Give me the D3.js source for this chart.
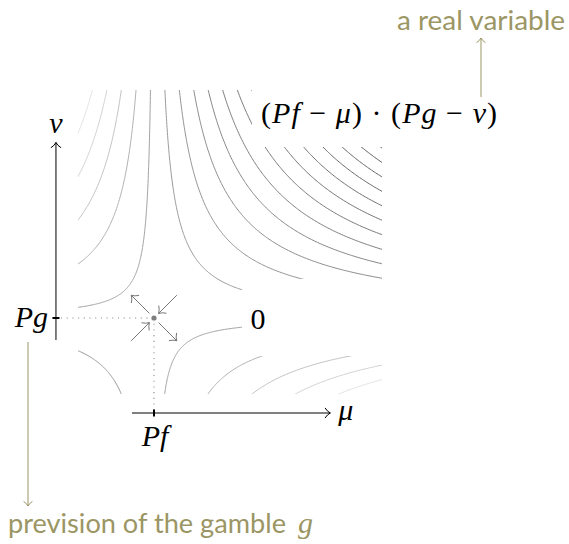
<!DOCTYPE html>
<html>
<head>
<meta charset="utf-8">
<script src="https://cdn.jsdelivr.net/npm/d3@7"></script>
<style>
  html, body { margin: 0; padding: 0; background: #fff; }
  svg { display: block; }
</style>
</head>
<body>
<svg id="chart" width="569" height="544"></svg>
<script>
// Level values of the product (Pf − μ)·(Pg − ν) drawn as contour lines
const levels = [-2.43, -1.86, -1.29, -0.71, -0.14, 0.43, 1.00, 1.57, 2.14, 2.71,
                3.29, 3.86, 4.43, 5.00, 5.57, 6.14, 6.71, 7.29, 7.86, 8.43];
// Previsions of the gambles f and g (the saddle point)
const prevision = { f: 0, g: 0 };
// Extent of the (μ, ν) plane shown
const muDomain = [-1, 3];
const nuDomain = [-1, 3];
// Axis extents and offsets (plane units)
const muAxisRange = [-0.29, 2.32];
const nuAxisRange = [-0.29, 2.31];
const muAxisAt = -1.25;
const nuAxisAt = -1.29;
// Directions of the small arrows around the saddle point: [dμ, dν, outward?]
const saddleArrows = [[-1, 1, true], [1, -1, true], [1, 1, false], [-1, -1, false]];

const olive = "#9b9664";
const mathFont = "Liberation Serif, Times New Roman, serif";
const sansFont = "Lato, Open Sans, sans-serif";
const mathSize = 30;

const svg = d3.select("#chart");
const x = d3.scaleLinear().domain(muDomain).range([78, 382]);
const y = d3.scaleLinear().domain(nuDomain).range([394, 90]);
const Pf = prevision.f, Pg = prevision.g;

svg.append("defs").append("clipPath").attr("id", "plane")
  .append("rect")
  .attr("x", x(muDomain[0])).attr("y", y(nuDomain[1]))
  .attr("width", x(muDomain[1]) - x(muDomain[0]))
  .attr("height", y(nuDomain[0]) - y(nuDomain[1]));

// grey shade of a contour line according to its level
const shade = d3.scaleLinear()
  .domain([-3, -0.14, 3, 9])
  .range(["#f2f2f2", "#9c9c9c", "#747474", "#3c3c3c"]);

const line = d3.line().x(d => x(d[0])).y(d => y(d[1]));

// contour lines: both branches of the hyperbola (Pf − μ)(Pg − ν) = c
const contours = svg.append("g").attr("clip-path", "url(#plane)");
levels.forEach(c => {
  [-1, 1].forEach(side => {
    const uMin = Math.abs(c) / 6, uMax = 6, n = 300;
    const pts = d3.range(n + 1).map(i => {
      const u = uMin * Math.pow(uMax / uMin, i / n);
      return [Pf + side * u, Pg + c / (side * u)];
    });
    contours.append("path")
      .attr("d", line(pts))
      .attr("fill", "none")
      .attr("stroke", shade(c))
      .attr("stroke-width", 0.95);
  });
});

// arrow head in the TikZ "to" style
function head(g, px, py, ang, color, len = 6) {
  const a1 = ang + Math.PI - 0.75, a2 = ang + Math.PI + 0.75;
  g.append("path")
    .attr("d", `M${px + len * Math.cos(a1)},${py + len * Math.sin(a1)}
                Q${px + 0.5 * len * Math.cos(a1 + 0.3)},${py + 0.5 * len * Math.sin(a1 + 0.3)} ${px},${py}
                Q${px + 0.5 * len * Math.cos(a2 - 0.3)},${py + 0.5 * len * Math.sin(a2 - 0.3)} ${px + len * Math.cos(a2)},${py + len * Math.sin(a2)}`)
    .attr("fill", "none").attr("stroke", color).attr("stroke-width", 1)
    .attr("stroke-linecap", "round");
}
function arrow(g, x1, y1, x2, y2, color, width = 1, len = 6) {
  g.append("line").attr("x1", x1).attr("y1", y1).attr("x2", x2).attr("y2", y2)
    .attr("stroke", color).attr("stroke-width", width);
  head(g, x2, y2, Math.atan2(y2 - y1, x2 - x1), color, len);
}
function mathText(g, px, py, parts, anchor = "start") {
  const t = g.append("text").attr("x", px).attr("y", py).attr("text-anchor", anchor)
    .attr("font-family", mathFont).attr("font-size", mathSize).attr("fill", "#000");
  parts.forEach(([s, it]) => t.append("tspan").attr("font-style", it ? "italic" : "normal").text(s));
  return t;
}

const ann = svg.append("g");

// white label backgrounds covering the contour lines
ann.append("rect").attr("x", 252).attr("y", 80).attr("width", 150).attr("height", 67).attr("fill", "#fff");
const zeroX = x(1.37), zeroY = y(0);
ann.append("rect").attr("x", 242).attr("y", zeroY - 39).attr("width", 160).attr("height", 77).attr("fill", "#fff");

// formula label
mathText(ann, 261, 123, [["(", false], ["Pf", true], [" − ", false], ["μ", true], [")", false], [" · ", false],
  ["(", false], ["Pg", true], [" − ", false], ["ν", true], [")", false]])
  .attr("textLength", 236).attr("lengthAdjust", "spacing");

// "0" at the level of the saddle
mathText(ann, zeroX, zeroY + 11, [["0", false]], "middle");

// dotted guides from the saddle to the axes
const sx = x(Pf), sy = y(Pg);
ann.append("line").attr("x1", x(nuAxisAt) + 5).attr("y1", sy).attr("x2", sx).attr("y2", sy)
  .attr("stroke", "#8a8a8a").attr("stroke-width", 1.1).attr("stroke-dasharray", "1.1 4.6");
ann.append("line").attr("x1", sx).attr("y1", sy).attr("x2", sx).attr("y2", y(muAxisAt) - 3)
  .attr("stroke", "#8a8a8a").attr("stroke-width", 1.1).attr("stroke-dasharray", "1.1 4.6");

// arrows around the saddle point
const near = 0.06, far = 0.30;
saddleArrows.forEach(([dm, dn, out]) => {
  const a = out ? near : far, b = out ? far : near;
  arrow(ann, x(Pf + dm * a), y(Pg + dn * a), x(Pf + dm * b), y(Pg + dn * b), "#777", 1, 7.5);
});
ann.append("circle").attr("cx", sx).attr("cy", sy).attr("r", 2.6).attr("fill", "#7f7f7f");

// μ axis
const ay = y(muAxisAt);
arrow(ann, x(muAxisRange[0]), ay, x(muAxisRange[1]), ay, "#000", 1, 7);
ann.append("line").attr("x1", sx).attr("x2", sx).attr("y1", ay - 3.5).attr("y2", ay + 3.5)
  .attr("stroke", "#000").attr("stroke-width", 2);
mathText(ann, sx + 1, ay + 33, [["Pf", true]], "middle");
mathText(ann, x(muAxisRange[1]) + 8, ay + 7, [["μ", true]]);

// ν axis
const ax = x(nuAxisAt);
arrow(ann, ax, y(nuAxisRange[0]), ax, y(nuAxisRange[1]), "#000", 1, 7);
ann.append("line").attr("y1", sy).attr("y2", sy).attr("x1", ax - 3.5).attr("x2", ax + 3.5)
  .attr("stroke", "#000").attr("stroke-width", 2);
mathText(ann, ax - 8, sy + 9, [["Pg", true]], "end");
mathText(ann, ax, y(nuAxisRange[1]) - 9, [["ν", true]], "middle");

// olive annotations
arrow(ann, 481, 97, 481, 38, olive, 1, 6);
ann.append("text").attr("x", 397).attr("y", 30).attr("font-family", sansFont)
  .attr("font-size", 26).attr("fill", olive).attr("textLength", 168)
  .attr("lengthAdjust", "spacingAndGlyphs").text("a real variable");

arrow(ann, 28, 342, 28, 506, olive, 1, 6);
ann.append("text").attr("x", 8).attr("y", 533).attr("font-family", sansFont)
  .attr("font-size", 26).attr("fill", olive).attr("textLength", 278)
  .attr("lengthAdjust", "spacingAndGlyphs").text("prevision of the gamble");
ann.append("text").attr("x", 298).attr("y", 533).attr("font-family", mathFont)
  .attr("font-style", "italic").attr("font-size", mathSize).attr("fill", olive).text("g");
</script>
</body>
</html>
